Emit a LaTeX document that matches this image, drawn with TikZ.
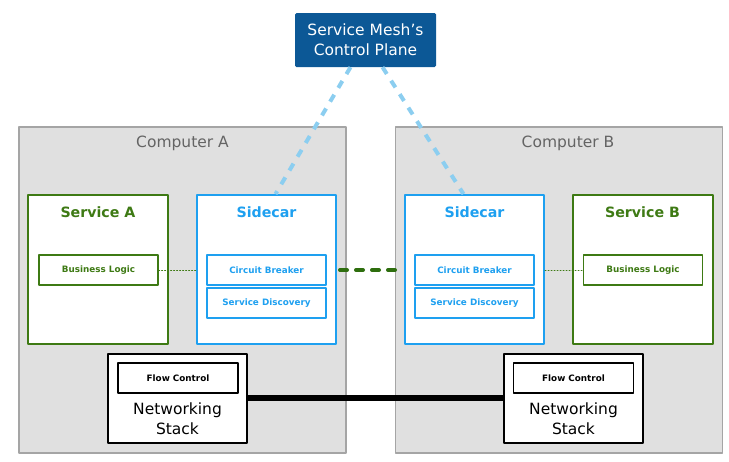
\documentclass[tikz,border=0pt]{standalone}
\usepackage{fontspec}
\setmainfont{DejaVu Sans}
\usepackage{tikz}
\usetikzlibrary{positioning}

\definecolor{meshblue}{RGB}{12,88,150}
\definecolor{compfill}{RGB}{224,224,224}
\definecolor{compline}{RGB}{165,165,165}
\definecolor{comptext}{RGB}{100,100,100}
\definecolor{svcgreen}{RGB}{62,122,20}
\definecolor{carblue}{RGB}{30,160,240}
\definecolor{linkblue}{RGB}{140,206,240}
\definecolor{linkgreen}{RGB}{46,110,14}

\tikzset{
  computer/.style={draw=compline, fill=compfill, line width=1.2pt, minimum width=327pt, minimum height=326pt},
  comptitle/.style={text=comptext, font=\fontsize{15.5pt}{19pt}\selectfont},
  service/.style={draw=svcgreen, fill=white, line width=2pt, minimum width=140pt, minimum height=149pt},
  sidecar/.style={draw=carblue, fill=white, line width=2pt, minimum width=139pt, minimum height=149pt},
  boxtitle/.style={font=\fontsize{14.2pt}{18pt}\selectfont\bfseries},
  feature/.style={draw, fill=white, line width=1.2pt, minimum width=119pt, minimum height=30pt, inner sep=0pt, font=\fontsize{8.8pt}{11pt}\selectfont\bfseries},
  netbox/.style={draw=black, fill=white, line width=1.3pt, minimum width=139pt, minimum height=89pt},
}

\begin{document}
\begin{tikzpicture}[x=1pt,y=-1pt,line cap=round,line join=round]
  \useasboundingbox (0,0) rectangle (729,461);

  % machines
  \node[computer] (compA) at (182.5,290) {};
  \node[computer] (compB) at (559,290) {};
  \node[comptitle] (compAtitle) at (182.5,143) {Computer A};
  \node[comptitle] (compBtitle) at (568,143) {Computer B};

  % control plane
  \node[fill=meshblue, rounded corners=1.5pt, minimum width=141pt, minimum height=54pt, text=white, align=center,
        font=\fontsize{15.5pt}{20pt}\selectfont] (plane) at (365.5,40) {Service Mesh’s\\Control Plane};

  % services and sidecars
  \node[service] (svcA) at (98,269.5) {};
  \node[sidecar] (sideA) at (266.5,269.5) {};
  \node[sidecar] (sideB) at (474.5,269.5) {};
  \node[service] (svcB) at (642.5,269.5) {};

  \node[boxtitle, text=svcgreen] (svcAtitle) at (98,212) {Service A};
  \node[boxtitle, text=carblue] (sideAtitle) at (266.5,212) {Sidecar};
  \node[boxtitle, text=carblue] (sideBtitle) at (474.5,212) {Sidecar};
  \node[boxtitle, text=svcgreen] (svcBtitle) at (642.5,212) {Service B};

  \node[feature, draw=svcgreen, text=svcgreen] (logicA) at (98.5,270) {Business Logic};
  \node[feature, draw=carblue, text=carblue] (cbA) at (266.5,270) {Circuit Breaker};
  \node[feature, draw=carblue, text=carblue, below=1.8pt of cbA] (sdA) {Service Discovery};
  \node[feature, draw=carblue, text=carblue] (cbB) at (474.5,270) {Circuit Breaker};
  \node[feature, draw=carblue, text=carblue, below=1.8pt of cbB] (sdB) {Service Discovery};
  \node[feature, draw=svcgreen, text=svcgreen] (logicB) at (643,270) {Business Logic};

  % networking stacks
  \node[netbox] (netA) at (177.5,398.5) {};
  \node[netbox] (netB) at (573.5,398.5) {};
  \node[feature, draw=black, minimum width=120pt] (flowA) at (178,378) {Flow Control};
  \node[feature, draw=black, minimum width=120pt] (flowB) at (573.5,378) {Flow Control};
  \node[align=center, font=\fontsize{15.5pt}{20pt}\selectfont] (netAtext) at (177.5,419) {Networking\\Stack};
  \node[align=center, font=\fontsize{15.5pt}{20pt}\selectfont] (netBtext) at (573.5,419) {Networking\\Stack};

  % links
  \draw[linkblue, line width=4pt, dash pattern=on 8pt off 8pt, line cap=butt]
    ([xshift=-15pt]plane.south) -- ([xshift=9pt]sideA.north);
  \draw[linkblue, line width=4pt, dash pattern=on 8pt off 8pt, line cap=butt]
    ([xshift=17pt]plane.south) -- ([xshift=-11pt]sideB.north);
  \draw[svcgreen, line width=1pt, dotted] (logicA.east) -- (sideA.west |- logicA.east);
  \draw[svcgreen, line width=1pt, dotted] (sideB.east |- logicB.west) -- (logicB.west);
  \draw[linkgreen, line width=4pt, dash pattern=on 7pt off 9pt] ([xshift=3pt]sideA.east |- cbA.east) -- ([xshift=-5pt]sideB.west |- cbB.west);
  \draw[black, line width=6pt, line cap=butt] (netA.east |- 0,398) -- (netB.west |- 0,398);
\end{tikzpicture}
\end{document}
